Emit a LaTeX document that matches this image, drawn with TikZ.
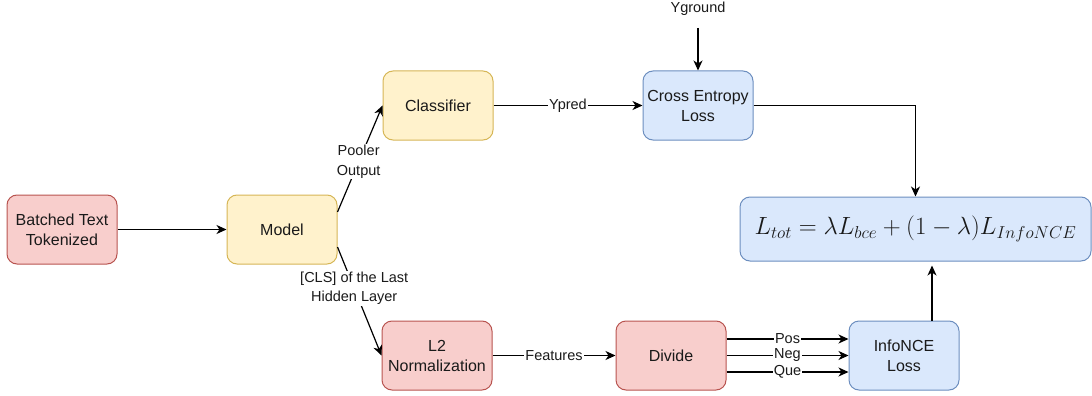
\documentclass[tikz,border=0pt]{standalone}
\usepackage{fontspec}
\setmainfont{Liberation Sans}
\usetikzlibrary{arrows.meta,calc}

\definecolor{redfill}{HTML}{F8CECC}
\definecolor{redline}{HTML}{B85450}
\definecolor{yelfill}{HTML}{FFF2CC}
\definecolor{yelline}{HTML}{D6B656}
\definecolor{bluefill}{HTML}{DAE8FC}
\definecolor{blueline}{HTML}{6C8EBF}
\definecolor{ink}{HTML}{1A1A1A}

\tikzset{
  box/.style={rounded corners=10pt, line width=1pt, minimum width=110pt,
    minimum height=69pt, align=center, inner sep=2pt, text=ink,
    font=\fontsize{16}{20}\selectfont},
  redbox/.style={box, fill=redfill, draw=redline},
  yelbox/.style={box, fill=yelfill, draw=yelline},
  bluebox/.style={box, fill=bluefill, draw=blueline},
  arr/.style={line width=1.2pt, draw=black,
    -{Stealth[length=10pt,width=9pt,inset=3pt]}},
  lbl/.style={fill=white, inner sep=1pt, text=ink, align=center,
    font=\fontsize{14.5}{19.5}\selectfont},
}

\begin{document}
\begin{tikzpicture}[x=1pt,y=-1pt]
\useasboundingbox (0,0) rectangle (1092,396);

% processing blocks
\node[redbox]  (bt)    at (62,229.5)  {Batched Text\\Tokenized};
\node[yelbox]  (model) at (282,229.5) {Model};
\node[yelbox]  (cls)   at (438,105.5) {Classifier};
\node[bluebox] (ce)    at (698,105.5) {Cross Entropy\\Loss};
\node[redbox]  (l2)    at (437,355.5) {L2\\Normalization};
\node[redbox]  (div)   at (671,355.5) {Divide};
\node[bluebox] (info)  at (904,355.5) {InfoNCE\\Loss};
\node[bluebox, minimum width=351pt, minimum height=64pt,
      font=\fontsize{24}{27}\selectfont]
      (loss) at (915.5,229)
      {$L_{tot}=\lambda L_{bce}+(1-\lambda)L_{InfoNCE}$};

% external ground-truth input
\node[lbl, inner sep=0pt] (yg) at (698,9) {Yground};

% tap point on top of the InfoNCE block and its target on the total loss
\coordinate (infotop) at ($(info.north)+(28,0)$);
\coordinate (losshit) at (infotop |- loss.south);

% classification branch
\draw[arr] (bt.east) -- (model.west);
\draw[arr] ($(model.east)+(0,-17.5)$) -- (cls.west)
  node[lbl, pos=0.47] {Pooler\\Output};
\draw[arr] (cls.east) -- (ce.west) node[lbl, midway] {Ypred};
\draw[arr, shorten <=12pt] (yg.south) -- (ce.north);
\draw[arr] (ce.east) -| (loss.north);

% contrastive branch
\draw[arr] ($(model.east)+(0,17.5)$) -- (l2.west)
  node[lbl, pos=0.38] {[CLS] of the Last\\Hidden Layer};
\draw[arr] (l2.east) -- (div.west) node[lbl, midway] {Features};
\draw[arr] ($(div.east)+(0,-16.5)$) -- ($(info.west)+(0,-16.5)$)
  node[lbl, midway] {Pos};
\draw[arr] (div.east) -- (info.west) node[lbl, midway] {Neg};
\draw[arr] ($(div.east)+(0,16.5)$) -- ($(info.west)+(0,16.5)$)
  node[lbl, midway] {Que};
\draw[arr, shorten >=4pt] (infotop) -- (losshit);
\end{tikzpicture}
\end{document}
